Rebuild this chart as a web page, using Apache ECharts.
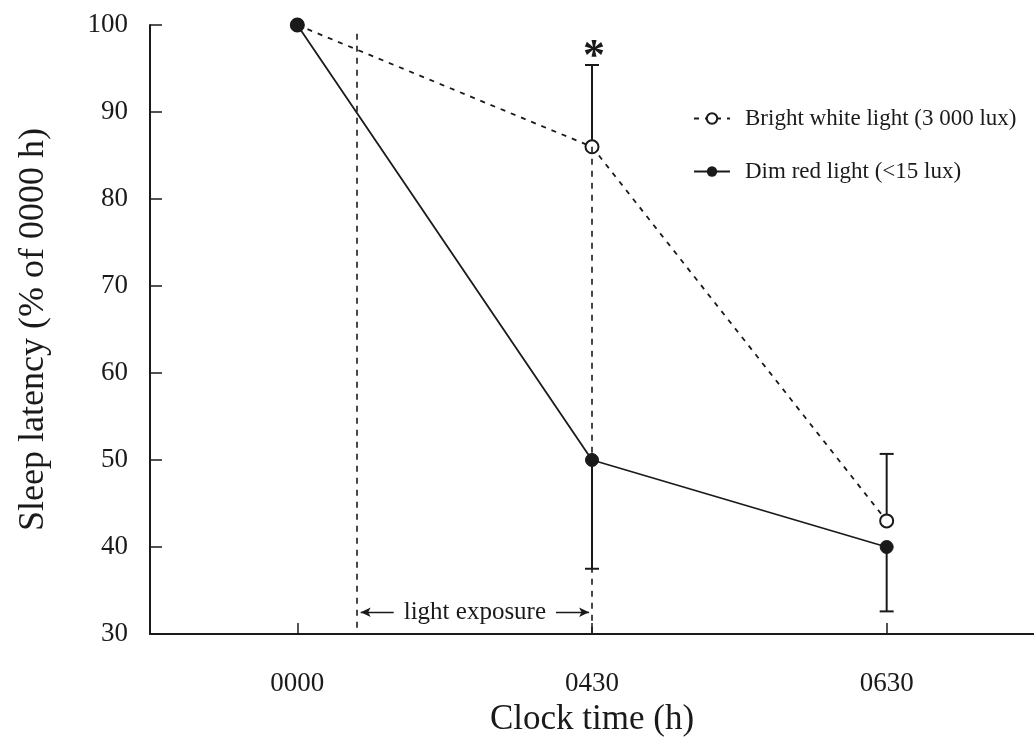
<!DOCTYPE html>
<html>
<head>
<meta charset="utf-8">
<script src="https://cdn.jsdelivr.net/npm/echarts@6/dist/echarts.min.js"></script>
<style>
  html, body { margin: 0; padding: 0; background: #fff; }
  #chart { width: 1034px; height: 742px; }
</style>
</head>
<body>
<div id="chart"></div>
<script>
// data
const timeLabels = ["0000", "0430", "0630"];
const timePos = [0, 1, 2];
const brightValues = [100, 86, 43];
const dimValues = [100, 50, 40];
// error bars: far end of each bar (NaN = none)
const brightErrEnd = [NaN, 95.4, 50.7];
const dimErrEnd = [NaN, 37.5, 32.6];
const yTicks = [30, 40, 50, 60, 70, 80, 90, 100];
const lightStart = 0.2; // start of light exposure, in category units
const lightEnd = 1;

const ink = "#1a1a1a";
const serif = "Liberation Serif";

const chart = echarts.init(document.getElementById("chart"));

const brightData = timePos.map((x, i) => [x, brightValues[i]]);
const dimData = timePos.map((x, i) => [x, dimValues[i]]);

let errData = [];
timePos.forEach((x, i) => {
  if (!isNaN(brightErrEnd[i])) errData.push([x, brightValues[i], brightErrEnd[i]]);
  if (!isNaN(dimErrEnd[i])) errData.push([x, dimValues[i], dimErrEnd[i]]);
});

const option = {
  backgroundColor: "#fff",
  animation: false,
  textStyle: { fontFamily: serif, color: ink },
  grid: { left: 150, right: 0, top: 25, bottom: 108 },
  legend: {
    data: ["Bright white light (3 000 lux)", "Dim red light (<15 lux)"],
    orient: "vertical",
    left: 688,
    top: 102,
    itemGap: 30,
    itemWidth: 36,
    itemHeight: 13,
    textStyle: { fontFamily: serif, fontSize: 23, color: ink, padding: [0, 0, 0, 10] }
  },
  xAxis: {
    type: "value",
    min: -0.5,
    max: 2.5,
    splitLine: { show: false },
    axisLine: { lineStyle: { color: ink, width: 2 } },
    axisTick: { inside: true, length: 11, customValues: timePos, lineStyle: { color: ink, width: 1.5 } },
    axisLabel: {
      customValues: timePos,
      formatter: v => timeLabels[Math.round(v)],
      fontFamily: serif, fontSize: 27, color: ink, margin: 36
    },
    name: "Clock time (h)",
    nameLocation: "middle",
    nameGap: 67,
    nameTextStyle: { fontFamily: serif, fontSize: 35, color: ink }
  },
  yAxis: {
    type: "value",
    min: yTicks[0],
    max: yTicks[yTicks.length - 1],
    interval: 10,
    splitLine: { show: false },
    axisLine: { show: true, onZero: false, lineStyle: { color: ink, width: 2 } },
    axisTick: { inside: true, length: 12, lineStyle: { color: ink, width: 1.5 } },
    axisLabel: { fontFamily: serif, fontSize: 27, color: ink, margin: 22 },
    name: "Sleep latency (% of 0000 h)",
    nameLocation: "middle",
    nameGap: 98,
    nameTextStyle: { fontFamily: serif, fontSize: 36, color: ink }
  },
  series: [
    {
      type: "custom",
      name: "err",
      z: 1,
      silent: true,
      data: errData,
      encode: { x: 0, y: [1, 2] },
      renderItem: function (params, api) {
        const x = api.value(0);
        const p0 = api.coord([x, api.value(1)]);
        const p1 = api.coord([x, api.value(2)]);
        const cap = 7;
        const st = { stroke: ink, lineWidth: 2 };
        return {
          type: "group",
          children: [
            { type: "line", shape: { x1: p0[0], y1: p0[1], x2: p1[0], y2: p1[1] }, style: st },
            { type: "line", shape: { x1: p1[0] - cap, y1: p1[1], x2: p1[0] + cap, y2: p1[1] }, style: st }
          ]
        };
      }
    },
    {
      type: "line",
      name: "Bright white light (3 000 lux)",
      z: 3,
      data: brightData,
      symbol: "circle",
      symbolSize: 13,
      itemStyle: { color: "#fff", borderColor: ink, borderWidth: 2 },
      lineStyle: { color: ink, width: 1.8, type: [5, 6] },
      markPoint: {
        silent: true,
        symbol: "circle",
        symbolSize: 0,
        data: [{ coord: [1, 97.2] }],
        label: { show: true, formatter: "*", fontFamily: serif, fontSize: 44, fontWeight: "bold", color: ink, offset: [2, 8] }
      },
      markLine: {
        silent: true,
        symbol: ["none", "none"],
        label: { show: false },
        lineStyle: { color: ink, width: 1.6, type: [6, 6] },
        data: [
          [{ coord: [lightStart, 99] }, { coord: [lightStart, 30] }],
          [{ coord: [lightEnd, 86] }, { coord: [lightEnd, 30] }]
        ]
      }
    },
    {
      type: "line",
      name: "Dim red light (<15 lux)",
      z: 4,
      data: dimData,
      symbol: "circle",
      symbolSize: 13,
      itemStyle: { color: ink, borderColor: ink },
      lineStyle: { color: ink, width: 1.8 },
      markLine: {
        silent: true,
        symbol: ["arrow", "arrow"],
        symbolSize: [7, 10],
        lineStyle: { color: ink, width: 1.3, type: "solid" },
        label: {
          show: true,
          position: "insideMiddle",
          formatter: "light exposure",
          fontFamily: serif, fontSize: 25, color: ink,
          backgroundColor: "#fff",
          padding: [0, 10]
        },
        data: [
          [{ coord: [lightStart + 0.015, 32.5] }, { coord: [lightEnd - 0.01, 32.5] }]
        ]
      }
    }
  ]
};

chart.setOption(option);
</script>
</body>
</html>
